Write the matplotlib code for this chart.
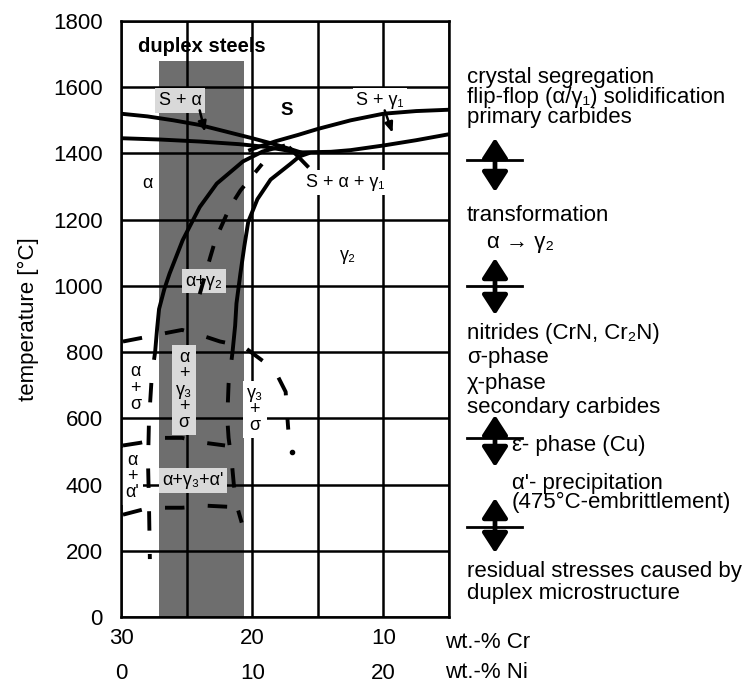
import matplotlib
matplotlib.use("Agg")
import matplotlib.pyplot as plt
from matplotlib.patches import FancyArrowPatch
from matplotlib.lines import Line2D

plt.rcParams['font.family'] = ['Liberation Sans', 'DejaVu Sans']

alpha_liq_cr = [30, 28, 26, 24, 22, 20, 18.5, 17, 16.2]
alpha_liq_t = [1520, 1512, 1500, 1486, 1466, 1446, 1430, 1412, 1402]
alpha_sol_cr = [30, 27, 24, 21, 19, 17.5, 16.5]
alpha_sol_t = [1446, 1442, 1436, 1428, 1420, 1410, 1402]
gamma_liq_cr = [5, 7.5, 10, 12.5, 15, 16.5, 18.2, 19.5, 20.3]
gamma_liq_t = [1532, 1528, 1520, 1500, 1474, 1456, 1437, 1420, 1408]
gamma_sol_cr = [5, 7.5, 10, 12.5, 14, 16.6]
gamma_sol_t = [1458, 1440, 1424, 1410, 1405, 1403]

# limites alpha / alpha+gamma / gamma
a_bound_cr = [27.4, 27.25, 27.1, 26.7, 26.3, 25.3, 24.0, 22.7, 20.7, 19.2, 17.5]
a_bound_t = [800, 870, 930, 990, 1037, 1138, 1238, 1309, 1376, 1406, 1424]
g_bound_cr = [21.5, 21.3, 21.2, 20.9, 20.6, 20.3, 19.6, 18.6, 17.1, 16.4, 15.6]
g_bound_t = [800, 880, 947, 1037, 1120, 1194, 1262, 1321, 1368, 1391, 1402]
mid_cr = [24.0, 23.2, 22.8, 21.7, 20.9, 19.25]
mid_t = [975, 1086, 1140, 1238, 1288, 1368]

# zona de baja temperatura (discontinuas)
sigma_cr = [29.85, 28.55, 26.27, 25.35, 23.75, 22.45, 20.7, 19.18, 18.1, 17.45, 17.35, 17.25]
sigma_t = [832, 842, 860, 867, 849, 832, 818, 773, 731, 680, 619, 566]
sigma_dot_cr = [17.0]
sigma_dot_t = [497]
a_low_cr = [27.4, 27.65, 27.87, 27.94, 27.87, 27.8]
a_low_t = [800, 730, 590, 465, 347, 175]
g_low_cr = [21.5, 21.8, 21.9, 21.8, 21.55, 21.4, 21.2, 20.8]
g_low_t = [800, 704, 600, 541, 465, 400, 340, 285]
ap_top_cr = [29.85, 28.55, 26.8, 25.35, 23.6, 22.07]
ap_top_t = [518, 526, 541, 541, 526, 518]
ap_bot_cr = [29.85, 28.4, 26.8, 25.35, 23.4, 21.9]
ap_bot_t = [309, 324, 330, 330, 336, 333]

duplex_cr = (27.1, 20.6)
duplex_top = 1680

# etiquetas de fases: (texto, Cr, T, fondo)
fases = [
    ("S + α", 25.5, 1560, '#d9d9d9'),
    ("S + γ₁", 10.25, 1560, 'white'),
    ("α", 28.0, 1309, None),
    ("S + α + γ₁", 12.9, 1312, 'white'),
    ("γ₂", 12.7, 1092, None),
    ("α+γ₂", 23.7, 1014, '#d9d9d9'),
    ("α\n+\nσ", 28.9, 691, 'white'),
    ("α\n+\nγ₃\n+\nσ", 25.2, 685, '#d9d9d9'),
    ("γ₃\n+\nσ", 19.8, 627, 'white'),
    ("α\n+\nα'", 29.15, 424, 'white'),
    ("α+γ₃+α'", 24.5, 412, '#d9d9d9'),
]

W, H = 753, 690
fig = plt.figure(figsize=(W / 100, H / 100), dpi=100)
ax = fig.add_axes([121 / W, 1 - 617 / H, (449 - 121) / W, (617 - 21) / H])


def px(x, y):
    return x / W, 1 - y / H


ax.set_xlim(30, 5)
ax.set_ylim(0, 1800)
ax.set_xticks([30, 25, 20, 15, 10, 5])
ax.set_xticklabels(['30', '', '20', '', '10', ''])
ax.set_yticks(range(0, 1801, 200))
ax.tick_params(length=0, labelsize=16, pad=8)
ax.tick_params(axis='y', pad=13)
ax.grid(True, color='black', lw=1.8, zorder=1)
ax.set_axisbelow(True)
for s in ax.spines.values():
    s.set_linewidth(1.8)
ax.set_ylabel("temperature [°C]", fontsize=16, labelpad=10)

sec = ax.secondary_xaxis(-0.059, functions=(lambda c: 30 - c, lambda n: 30 - n))
sec.set_xticks([0, 10, 20])
sec.spines['bottom'].set_visible(False)
sec.tick_params(length=0, labelsize=16, pad=8)

# banda de aceros duplex
ax.axvspan(duplex_cr[0], duplex_cr[1], ymin=0, ymax=duplex_top / 1800,
           color='#6e6e6e', lw=0, zorder=0.5)
ax.text(sum(duplex_cr) / 2, duplex_top + 42, "duplex steels", ha='center', va='center',
        fontsize=14.5, fontweight='bold', zorder=5)

lw = 2.8
solid = dict(color='black', lw=lw, zorder=3, solid_capstyle='butt')
for cx, ty in [(alpha_liq_cr, alpha_liq_t), (alpha_sol_cr, alpha_sol_t),
               (gamma_liq_cr, gamma_liq_t), (gamma_sol_cr, gamma_sol_t),
               (a_bound_cr, a_bound_t), (g_bound_cr, g_bound_t)]:
    ax.plot(cx, ty, **solid)

dash = dict(color='black', lw=lw, zorder=3, dash_capstyle='butt')
ax.plot(mid_cr, mid_t, ls=(0, (4.2, 4.5)), **dash)
ax.plot(sigma_cr, sigma_t, ls=(0, (5, 6)), **dash)
ax.plot(sigma_dot_cr, sigma_dot_t, 'o', color='black', ms=3, zorder=3)
ax.plot(a_low_cr, a_low_t, ls=(3, (5, 6)), **dash)
ax.plot(g_low_cr, g_low_t, ls=(3, (5, 6)), **dash)
ax.plot(ap_top_cr, ap_top_t, ls=(0, (5, 6)), **dash)
ax.plot(ap_bot_cr, ap_bot_t, ls=(0, (5, 6)), **dash)

for txt, cx, ty, bg in fases:
    bbox = None
    if bg is not None:
        bbox = dict(boxstyle='square,pad=0.2', fc=bg, ec='none')
    ax.text(cx, ty, txt, ha='center', va='center', fontsize=13,
            linespacing=0.95, bbox=bbox, zorder=2.5)
ax.text(17.35, 1531, "S", ha='center', va='center', fontsize=13.5,
        fontweight='bold', zorder=4)

# flechas de referencia
arr = dict(arrowstyle='-|>,head_length=0.5,head_width=0.2', color='black',
           lw=1.8, mutation_scale=12, shrinkA=0, shrinkB=0)
ax.annotate("", xy=(23.6, 1465), xytext=(24.0, 1530), arrowprops=arr, zorder=4)
ax.annotate("", xy=(9.3, 1462), xytext=(9.9, 1530), arrowprops=arr, zorder=4)
ax.plot([17.1, 15.8], [1415, 1362], color='black', lw=lw, zorder=3)

# unidades del eje x
fig.text(*px(445, 643), "wt.-% Cr", fontsize=16, va='center')
fig.text(*px(445, 673), "wt.-% Ni", fontsize=16, va='center')

# textos de la derecha
derecha = [
    (467, 78, "crystal segregation"),
    (467, 98, "flip-flop (α/γ₁) solidification"),
    (467, 117, "primary carbides"),
    (467, 215, "transformation"),
    (487, 242, "α → γ₂"),
    (467, 333, "nitrides (CrN, Cr₂N)"),
    (467, 358, "σ-phase"),
    (467, 384, "χ-phase"),
    (467, 407, "secondary carbides"),
    (512, 446, "ε- phase (Cu)"),
    (512, 483, "α'- precipitation"),
    (512, 502, "(475°C-embrittlement)"),
    (467, 571, "residual stresses caused by"),
    (467, 593, "duplex microstructure"),
]
for x, y, t in derecha:
    fig.text(*px(x, y), t, fontsize=16, va='center', ha='left')

for y0, y1, ym in [(138, 192, 160), (258, 315, 286), (415, 467, 438), (498, 553, 527)]:
    fig.add_artist(FancyArrowPatch(px(495, y0), px(495, y1), transform=fig.transFigure,
                                   arrowstyle='<|-|>,head_length=0.85,head_width=0.55',
                                   mutation_scale=14, lw=3.4, color='black',
                                   shrinkA=0, shrinkB=0))
    x0, yy = px(467, ym)
    x1, _ = px(522, ym)
    fig.add_artist(Line2D([x0, x1], [yy, yy], transform=fig.transFigure,
                          color='black', lw=2))

fig.savefig("out.png", dpi=100)
